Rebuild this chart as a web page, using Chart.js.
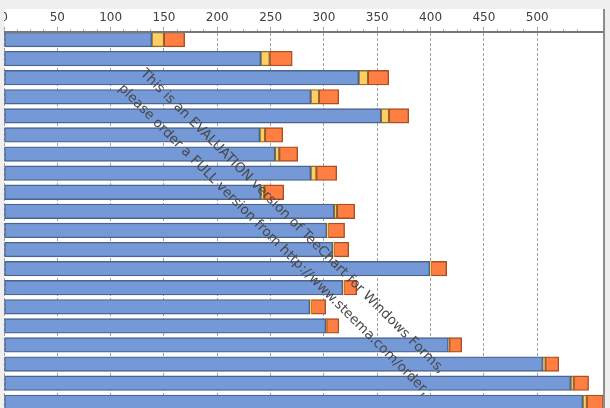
<!DOCTYPE html>
<html>
<head>
<meta charset="utf-8">
<title>TeeChart</title>
<script src="https://cdn.jsdelivr.net/npm/chart.js@4"></script>
<style>
    html, body { margin: 0; height: 100%; overflow: hidden; background: #efefef; }
    #box { position: absolute; left: 4px; top: 9px; width: 599px; height: 399px; background: #fff; border-right: 2px solid #8c8c8c; }
</style>
</head>
<body>
<div id="box"><canvas id="chart"></canvas></div>
<script>
// Valores
const categories = ['1', '2', '3', '4', '5', '6', '7', '8', '9', '10', '11', '12', '13', '14', '15', '16', '17', '18', '19', '20'];
const blueValues = [138.5, 240.7, 332.6, 287.6, 353.5, 239.8, 254.1, 287.6, 240.7, 309.5, 302.6, 308.2, 399.2, 317.6, 286.7, 301.7, 416.6, 505.1, 531.4, 542.7];
const yellowValues = [11.5, 8.4, 8.7, 7.8, 7.5, 5, 4, 5.3, 3.4, 2.8, 1.2, 1.2, 1.2, 1.2, 1.2, 0.6, 1, 2.5, 2.8, 3.8];
const orangeValues = [19.4, 21.2, 19.4, 18.5, 18.5, 16.6, 17.3, 19.1, 18.2, 16.6, 15.6, 13.8, 14.7, 11.9, 13.8, 11.7, 11.6, 12.6, 14, 15.5];
const watermarkLines = [
    'This is an EVALUATION version of TeeChart for Windows Forms,',
    'please order a FULL version from http://www.steema.com/order,'
];

function toPoints(values) {
    return values.map((v, i) => ({ x: v, y: i, name: categories[i] }));
}

// Marca d'agua diagonal por cima das barras
const watermark = {
    id: 'watermark',
    afterDraw(chart) {
        const ctx = chart.ctx;
        const starts = [[136, 65], [114, 80]];
        ctx.save();
        ctx.font = '13.5px "DejaVu Sans"';
        ctx.fillStyle = '#484848';
        ctx.textBaseline = 'alphabetic';
        watermarkLines.forEach((line, i) => {
            ctx.save();
            ctx.translate(starts[i][0], starts[i][1]);
            ctx.rotate(Math.PI / 4);
            ctx.fillText(line, 0, 0);
            ctx.restore();
        });
        ctx.restore();
    }
};

const xMax = 561.7;

new Chart(document.getElementById('chart'), {
    type: 'bar',
    data: {
        datasets: [
            { label: 'Azul', data: toPoints(blueValues), backgroundColor: '#7499d6', borderColor: '#4a6491' },
            {
                label: 'Amarelo',
                data: toPoints(yellowValues),
                backgroundColor: '#ffcf66',
                borderColor: '#8f6d2c',
                // as fatias bem finas aparecem sem contorno
                borderWidth: c => (c.raw.x >= 1.1 && c.raw.x < 1.5 ? 0 : 1.4)
            },
            { label: 'Laranja', data: toPoints(orangeValues), backgroundColor: '#ff7f42', borderColor: '#a84f24' }
        ]
    },
    options: {
        indexAxis: 'y',
        responsive: true,
        maintainAspectRatio: false,
        animation: false,
        layout: { padding: 0, autoPadding: false },
        plugins: { legend: { display: false }, tooltip: { enabled: false } },
        datasets: { bar: { barThickness: 14.6, borderWidth: 1.4, borderSkipped: false, stack: 's' } },
        scales: {
            x: {
                type: 'linear',
                position: 'top',
                weight: 1,
                stacked: true,
                min: 0,
                max: xMax,
                afterBuildTicks: s => { s.ticks = s.ticks.filter(t => t.value % 50 === 0); },
                afterFit: s => { s.height = 23; s.paddingLeft = 0; s.paddingRight = 0; },
                ticks: { stepSize: 50, autoSkip: false, maxRotation: 0, padding: 2, color: '#404040', font: { family: '"DejaVu Sans"', size: 12 } },
                grid: { color: '#a0a0a0', tickColor: '#a0a0a0', tickLength: 5, tickBorderDash: [], lineWidth: 1 },
                border: { display: true, color: '#777777', width: 2, dash: [3, 2], z: 1 }
            },
            x2: {
                type: 'linear',
                axis: 'x',
                position: 'top',
                weight: 0,
                min: 0,
                max: xMax,
                afterFit: s => { s.height = 0; s.paddingLeft = 0; s.paddingRight = 0; },
                ticks: { stepSize: 12.5, display: false, autoSkip: false },
                grid: { drawOnChartArea: false, tickColor: '#b4b4b4', tickLength: 3 },
                border: { display: false }
            },
            y: {
                type: 'linear',
                display: false,
                reverse: true,
                stacked: true,
                offset: false,
                min: -0.393,
                max: 19.3
            }
        }
    },
    plugins: [watermark]
});
</script>
</body>
</html>
